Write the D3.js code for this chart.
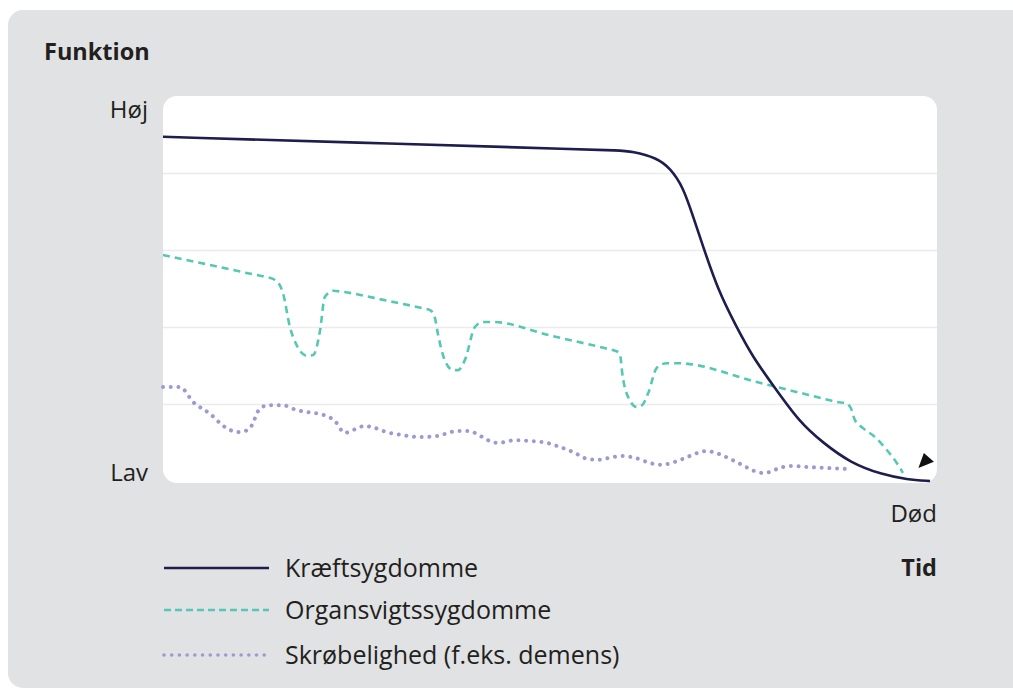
<!DOCTYPE html>
<html>
<head>
<meta charset="utf-8">
<script src="https://cdn.jsdelivr.net/npm/d3@7"></script>
<style>
  html, body { margin: 0; padding: 0; background: #ffffff; }
  svg { display: block; font-family: "Open Sans", "Noto Sans", sans-serif; }
</style>
</head>
<body>
<svg id="chart" width="1013" height="689"></svg>
<script>
// ---- Data (time 0..100, function 0..100) ----
const seriesNames = ["Kræftsygdomme", "Organsvigtssygdomme", "Skrøbelighed (f.eks. demens)"];

const cancerT = [0, 30, 55, 58.5, 60.7, 63.8, 65.5, 67.2, 68.5, 69.8, 71.7, 74.1, 76.2, 78.8, 82.3, 85.3, 88.8, 93.0, 96.1, 99.1, 99.1];
const cancerF = [89.4, 87.6, 86.1, 85.9, 85.6, 83.9, 81.3, 76.4, 68.6, 60.8, 49.6, 40.0, 32.2, 24.9, 15.1, 9.9, 4.7, 1.6, 0.4, 0, 0];

const organT = [0, 6.7, 12.6, 13.4, 14.5, 15.5, 16.4, 17.4, 18.6, 19.4, 20.3, 20.9, 22.0, 23.3, 29.0, 33.7, 34.5, 35.1, 35.5, 36.4, 37.5, 38.1, 39.0, 40.3, 41.3, 42.6, 50.0, 57.3, 58.1, 59.0, 59.4, 60.3, 61.2, 61.9, 62.7, 63.8, 65.1, 66.4, 77.1, 86.3, 87.1, 88.1, 88.8, 89.4, 90.4, 92.0, 93.5, 94.8, 95.6];
const organF = [58.7, 55.85, 53.3, 53.0, 52.2, 48.8, 40.0, 34.8, 32.5, 32.7, 39.2, 47.8, 49.4, 49.1, 46.8, 44.8, 44.4, 42.6, 38.4, 31.4, 28.8, 28.8, 31.4, 40.0, 41.3, 41.3, 37.8, 34.4, 34.0, 33.2, 27.0, 21.0, 19.2, 19.7, 22.9, 29.4, 30.6, 30.6, 25.5, 20.9, 20.5, 20.3, 19.2, 15.8, 13.8, 11.4, 8.1, 4.7, 2.1];

const frailT = [0, 2.2, 3.9, 6.1, 8.0, 9.7, 10.9, 11.5, 12.3, 13.2, 14.2, 15.4, 17.3, 19.3, 20.3, 22.2, 23.5, 24.5, 26.1, 27.0, 28.9, 31.0, 33.2, 35.4, 38.1, 39.4, 41.3, 42.2, 43.3, 45.5, 47.4, 49.6, 50.9, 53.0, 54.9, 56.1, 58.1, 59.3, 61.0, 62.9, 64.0, 65.1, 67.1, 69.1, 70.2, 71.1, 73.0, 74.8, 76.4, 77.4, 78.4, 79.3, 81.0, 83.6, 88.8];
const frailF = [24.4, 24.4, 20.5, 17.4, 14.0, 12.7, 13.2, 14.5, 18.2, 19.5, 19.7, 19.7, 18.4, 17.7, 17.4, 15.6, 12.5, 13.2, 14.3, 14.0, 12.7, 11.9, 11.4, 11.7, 13.0, 13.0, 11.4, 10.4, 9.9, 10.6, 10.4, 9.9, 9.1, 7.5, 5.7, 5.5, 6.2, 6.5, 6.0, 4.7, 4.2, 4.4, 5.7, 7.3, 7.8, 7.5, 6.0, 4.2, 2.6, 2.1, 2.3, 3.1, 3.9, 3.6, 3.1];

const gridValues = [20, 40, 60, 80];
const yAxisLabels = ["Høj", "Lav"];
const xEndLabel = "Død";
const yTitle = "Funktion";
const xTitle = "Tid";

// ---- Layout ----
const svg = d3.select("#chart");
const plot = { left: 163, right: 937, top: 96, bottom: 483 };
const x = d3.scaleLinear().domain([0, 100]).range([plot.left, plot.right]);
const y = d3.scaleLinear().domain([0, 100]).range([481, plot.top]);

// gray card
svg.append("rect").attr("x", 8).attr("y", 10).attr("width", 1040).attr("height", 678)
  .attr("rx", 15).attr("fill", "#e1e2e4");

// white plot area
svg.append("rect").attr("x", plot.left).attr("y", plot.top)
  .attr("width", plot.right - plot.left).attr("height", plot.bottom - plot.top)
  .attr("rx", 14).attr("fill", "#ffffff");

// gridlines
svg.append("g").selectAll("line").data(gridValues).join("line")
  .attr("x1", plot.left).attr("x2", plot.right)
  .attr("y1", d => Math.round(y(d)) + 0.5).attr("y2", d => Math.round(y(d)) + 0.5)
  .attr("stroke", "#ebebed").attr("stroke-width", 1.5);

const lineMono = d3.line().x(d => x(d[0])).y(d => y(d[1])).curve(d3.curveMonotoneX);
const lineBasis = d3.line().x(d => x(d[0])).y(d => y(d[1])).curve(d3.curveBasis);
const zip = (a, b) => a.map((v, i) => [v, b[i]]);

const styles = [
  { color: "#1d1d4e", width: 2.6, dash: null, cap: "butt" },
  { color: "#55c8b4", width: 2.6, dash: "7 5", cap: "butt" },
  { color: "#9d9ad2", width: 4, dash: "0.01 7.7", cap: "round" }
];

const series = [
  { data: zip(frailT, frailF), st: styles[2], gen: lineMono },
  { data: zip(organT, organF), st: styles[1], gen: lineMono },
  { data: zip(cancerT, cancerF), st: styles[0], gen: lineBasis }
];
series.forEach(s => {
  svg.append("path").datum(s.data).attr("d", s.gen)
    .attr("fill", "none").attr("stroke", s.st.color).attr("stroke-width", s.st.width)
    .attr("stroke-dasharray", s.st.dash).attr("stroke-linecap", s.st.cap);
});

// arrow head near end
const arrowPts = [[97.6, 3.4], [98.3, 7.3], [99.6, 5.0]];
svg.append("path")
  .attr("d", "M" + arrowPts.map(p => [x(p[0]), y(p[1])].join(",")).join("L") + "Z")
  .attr("fill", "#111111");

// texts
const txt = "#231f20";
svg.append("text").attr("x", 44).attr("y", 60).text(yTitle)
  .attr("font-size", 23.5).attr("font-weight", 700).attr("fill", txt);
svg.append("text").attr("x", 148).attr("y", 118).attr("text-anchor", "end").text(yAxisLabels[0])
  .attr("font-size", 24).attr("fill", txt);
svg.append("text").attr("x", 148).attr("y", 481).attr("text-anchor", "end").text(yAxisLabels[1])
  .attr("font-size", 24).attr("fill", txt);
svg.append("text").attr("x", 937).attr("y", 522).attr("text-anchor", "end").text(xEndLabel)
  .attr("font-size", 24).attr("fill", txt);
svg.append("text").attr("x", 937).attr("y", 576).attr("text-anchor", "end").text(xTitle)
  .attr("font-size", 23.5).attr("font-weight", 700).attr("fill", txt);

// legend
const legendY = [568, 610, 655];
seriesNames.forEach((name, i) => {
  const st = styles[i];
  svg.append("line").attr("x1", 164).attr("x2", 269)
    .attr("y1", legendY[i]).attr("y2", legendY[i])
    .attr("stroke", st.color).attr("stroke-width", i === 2 ? 3.6 : 2.6)
    .attr("stroke-dasharray", i === 1 ? "7 4" : st.dash).attr("stroke-linecap", st.cap);
  svg.append("text").attr("x", 285).attr("y", legendY[i] + 8.5).text(name)
    .attr("font-size", 25).attr("fill", txt);
});
</script>
</body>
</html>
